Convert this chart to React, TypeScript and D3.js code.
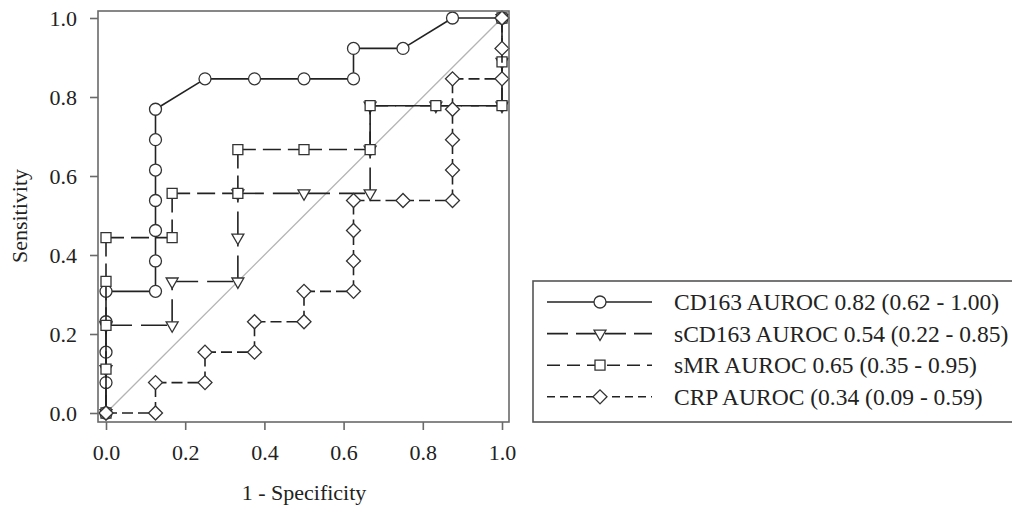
import * as d3 from 'd3';
import React, { useEffect, useRef } from 'react';

// ROC points (1 - specificity, sensitivity)
const cd163X = [0, 0, 0, 0, 0, 0.125, 0.125, 0.125, 0.125, 0.125, 0.125, 0.125, 0.25, 0.375, 0.5, 0.625, 0.625, 0.75, 0.875, 1];
const cd163Y = [0, 0.077, 0.154, 0.231, 0.308, 0.308, 0.385, 0.462, 0.538, 0.615, 0.692, 0.769, 0.846, 0.846, 0.846, 0.846, 0.923, 0.923, 1, 1];

const scd163X = [0, 0, 0, 0.167, 0.167, 0.333, 0.333, 0.333, 0.5, 0.667, 0.667, 0.667, 0.833, 1, 1, 1];
const scd163Y = [0, 0.111, 0.222, 0.222, 0.333, 0.333, 0.444, 0.556, 0.556, 0.556, 0.667, 0.778, 0.778, 0.778, 0.889, 1];

const smrX = [0, 0, 0, 0, 0, 0.167, 0.167, 0.333, 0.333, 0.5, 0.667, 0.667, 0.833, 1, 1, 1];
const smrY = [0, 0.111, 0.222, 0.333, 0.444, 0.444, 0.556, 0.556, 0.667, 0.667, 0.667, 0.778, 0.778, 0.778, 0.889, 1];

const crpX = [0, 0.125, 0.125, 0.25, 0.25, 0.375, 0.375, 0.5, 0.5, 0.625, 0.625, 0.625, 0.625, 0.75, 0.875, 0.875, 0.875, 0.875, 0.875, 1, 1, 1];
const crpY = [0, 0, 0.077, 0.077, 0.154, 0.154, 0.231, 0.231, 0.308, 0.308, 0.385, 0.462, 0.538, 0.538, 0.538, 0.615, 0.692, 0.769, 0.846, 0.846, 0.923, 1];

const legendLabels = [
  'CD163 AUROC 0.82 (0.62 - 1.00)',
  'sCD163 AUROC 0.54 (0.22 - 0.85)',
  'sMR AUROC 0.65 (0.35 - 0.95)',
  'CRP AUROC (0.34 (0.09 - 0.59)',
];
const tickValues = [0, 0.2, 0.4, 0.6, 0.8, 1.0];

const FONT = '"Liberation Serif", "Times New Roman", serif';

function App() {
  const ref = useRef<SVGSVGElement>(null);

  useEffect(() => {
    const width = 1012;
    const height = 509;
    const frame = { left: 98, top: 11, right: 509, bottom: 422 };

    const svg = d3.select(ref.current).attr('width', width).attr('height', height);
    svg.selectAll('*').remove();

    const x = d3.scaleLinear().domain([0, 1]).range([106, 502]);
    const y = d3.scaleLinear().domain([0, 1]).range([413, 18]);

    const series = [
      { xs: cd163X, ys: cd163Y, dash: null, legendDash: null, shape: 'circle' },
      { xs: scd163X, ys: scd163Y, dash: '26,9', legendDash: '21,8', shape: 'triangle' },
      { xs: smrX, ys: smrY, dash: '18,7', legendDash: '13,7', shape: 'square' },
      { xs: crpX, ys: crpY, dash: '11,5', legendDash: '8,5', shape: 'diamond' },
    ];

    const symbolFor = (shape: string) => {
      if (shape === 'circle') return d3.symbol().type(d3.symbolCircle).size(113)();
      if (shape === 'triangle') return d3.symbol().type(d3.symbolTriangle).size(62)();
      return d3.symbol().type(d3.symbolSquare).size(shape === 'square' ? 100 : 98)();
    };
    const rotFor = (shape: string) => (shape === 'triangle' ? 180 : shape === 'diamond' ? 45 : 0);

    // chance diagonal
    svg
      .append('line')
      .attr('x1', x(0))
      .attr('y1', y(0))
      .attr('x2', x(1))
      .attr('y2', y(1))
      .attr('stroke', '#b4b4b4')
      .attr('stroke-width', 1.3);

    series.forEach((s) => {
      const pts = s.xs.map((v, i) => [x(v), y(s.ys[i])] as [number, number]);
      // dash pattern restarts at every vertex, like the original software
      const segs = d3.pairs(pts).filter(([a, b]) => a[0] !== b[0] || a[1] !== b[1]);
      svg
        .append('g')
        .selectAll('path')
        .data(segs)
        .enter()
        .append('path')
        .attr('d', (d) => d3.line()(d))
        .attr('fill', 'none')
        .attr('stroke', '#222')
        .attr('stroke-width', 1.6)
        .attr('stroke-dasharray', s.dash);
      svg
        .append('g')
        .selectAll('path')
        .data(pts)
        .enter()
        .append('path')
        .attr('d', symbolFor(s.shape))
        .attr('transform', (d) => `translate(${d[0]},${d[1]}) rotate(${rotFor(s.shape)})`)
        .attr('fill', 'white')
        .attr('stroke', '#333')
        .attr('stroke-width', 1.3);
    });

    // frame
    svg
      .append('rect')
      .attr('x', frame.left)
      .attr('y', frame.top)
      .attr('width', frame.right - frame.left)
      .attr('height', frame.bottom - frame.top)
      .attr('fill', 'none')
      .attr('stroke', '#6a6a6a')
      .attr('stroke-width', 1.6);

    const fmt = d3.format('.1f');
    const xAxis = svg
      .append('g')
      .attr('transform', `translate(0,${frame.bottom})`)
      .call(d3.axisBottom(x).tickValues(tickValues).tickFormat(fmt as any).tickSize(8).tickPadding(14));
    const yAxis = svg
      .append('g')
      .attr('transform', `translate(${frame.left},0)`)
      .call(d3.axisLeft(y).tickValues(tickValues).tickFormat(fmt as any).tickSize(8).tickPadding(13));

    [xAxis, yAxis].forEach((ax) => {
      ax.select('.domain').remove();
      ax.selectAll('line').attr('stroke', '#6a6a6a').attr('stroke-width', 1.6);
      ax.selectAll('text').attr('font-family', FONT).attr('font-size', 22).attr('fill', '#222');
    });

    svg
      .append('text')
      .attr('x', 304)
      .attr('y', 500)
      .attr('text-anchor', 'middle')
      .attr('font-family', FONT)
      .attr('font-size', 22)
      .attr('fill', '#222')
      .text('1 - Specificity');

    svg
      .append('text')
      .attr('transform', 'translate(27,216) rotate(-90)')
      .attr('text-anchor', 'middle')
      .attr('font-family', FONT)
      .attr('font-size', 22)
      .attr('fill', '#222')
      .text('Sensitivity');

    // legend (its right edge runs off the picture, as in the original)
    const legend = svg.append('g');
    legend
      .append('rect')
      .attr('x', 533)
      .attr('y', 281)
      .attr('width', 486)
      .attr('height', 141)
      .attr('fill', 'white')
      .attr('stroke', '#555')
      .attr('stroke-width', 1.6);

    series.forEach((s, i) => {
      const cy = 302 + i * 31.6;
      legend
        .append('line')
        .attr('x1', 547)
        .attr('x2', 652)
        .attr('y1', cy)
        .attr('y2', cy)
        .attr('stroke', '#222')
        .attr('stroke-width', 1.6)
        .attr('stroke-dasharray', s.legendDash);
      legend
        .append('path')
        .attr('d', symbolFor(s.shape))
        .attr('transform', `translate(600,${cy}) rotate(${rotFor(s.shape)})`)
        .attr('fill', 'white')
        .attr('stroke', '#333')
        .attr('stroke-width', 1.3);
      legend
        .append('text')
        .attr('x', 674)
        .attr('y', cy + 8)
        .attr('font-family', FONT)
        .attr('font-size', 23.5)
        .attr('fill', '#222')
        .text(legendLabels[i]);
    });
  }, []);

  return (
    <div style={{ position: 'absolute', left: 0, top: 0, width: 1012, height: 509, overflow: 'hidden' }}>
      <svg ref={ref} style={{ display: 'block' }}></svg>
    </div>
  );
}

export default App;
